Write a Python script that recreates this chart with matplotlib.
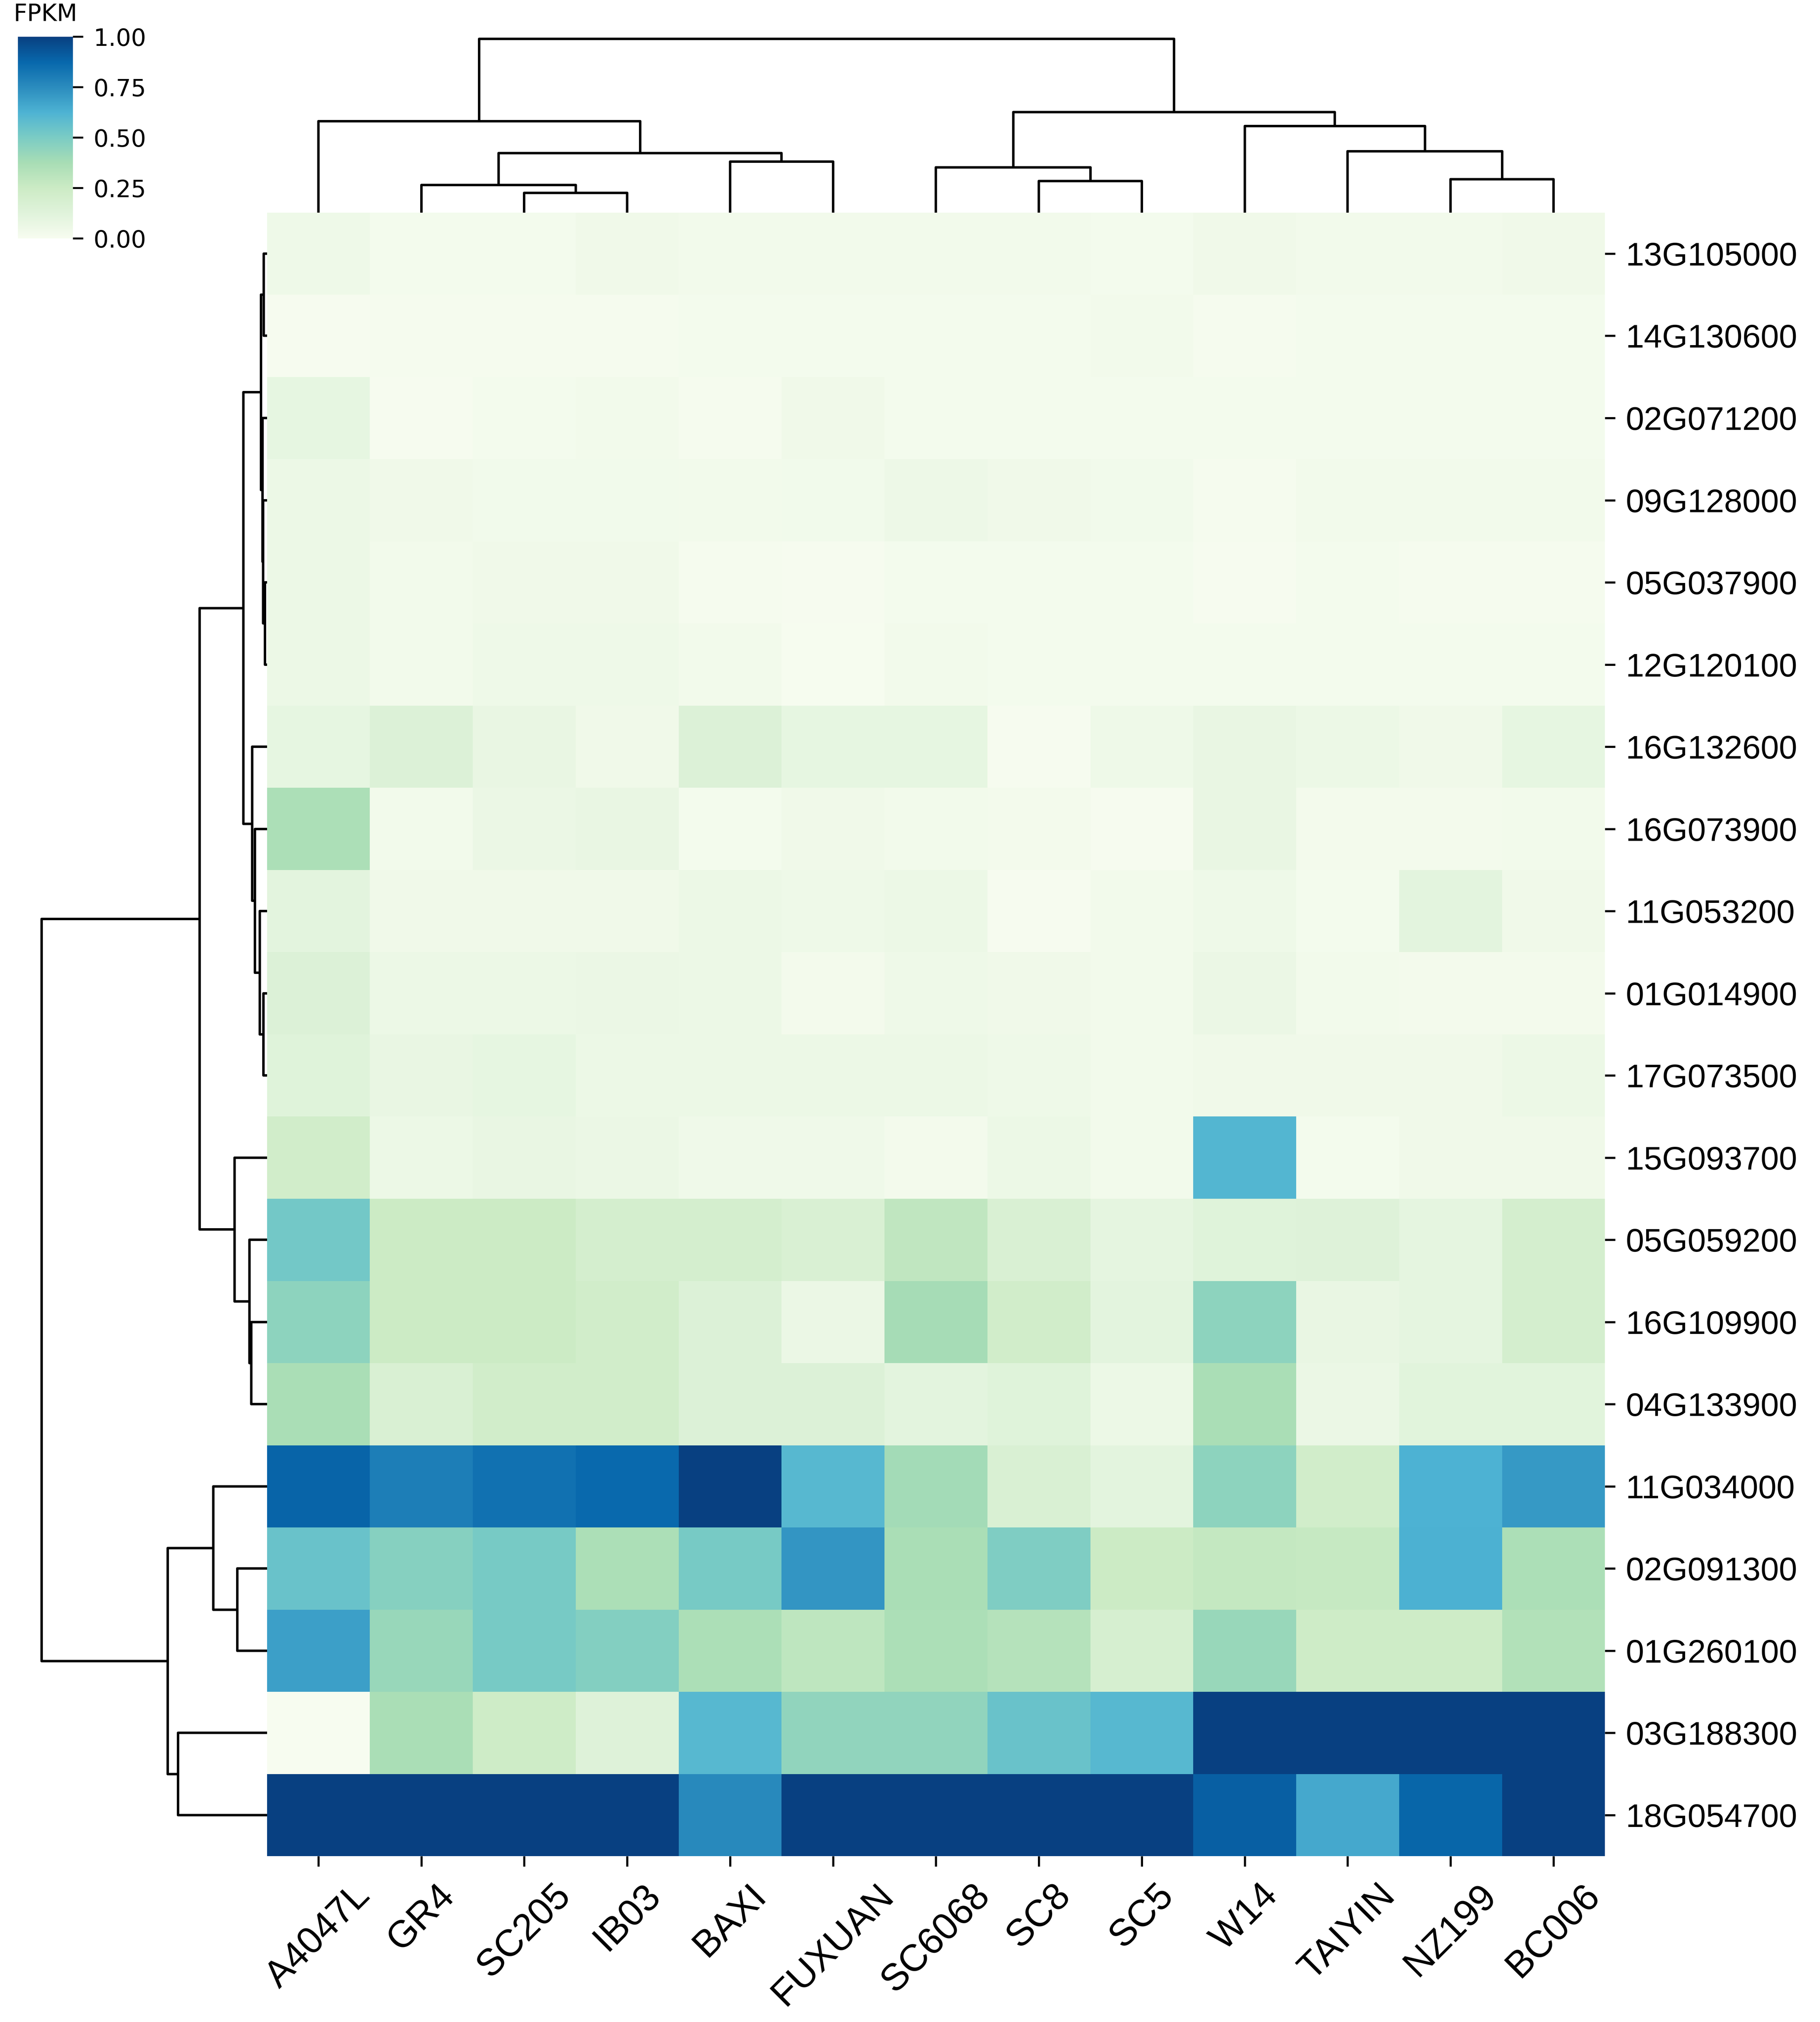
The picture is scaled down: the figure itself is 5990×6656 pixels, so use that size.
import numpy as np
import matplotlib.pyplot as plt

genes = ['13G105000', '14G130600', '02G071200', '09G128000', '05G037900',
         '12G120100', '16G132600', '16G073900', '11G053200', '01G014900',
         '17G073500', '15G093700', '05G059200', '16G109900', '04G133900',
         '11G034000', '02G091300', '01G260100', '03G188300', '18G054700']
samples = ['A4047L', 'GR4', 'SC205', 'IB03', 'BAXI', 'FUXUAN', 'SC6068',
           'SC8', 'SC5', 'W14', 'TAIYIN', 'NZ199', 'BC006']

# scaled FPKM, rows in clustered order
fpkm = np.array([
    [0.05, 0.02, 0.02, 0.04, 0.03, 0.03, 0.03, 0.03, 0.02, 0.04, 0.03, 0.03, 0.04],
    [0.01, 0.015, 0.015, 0.015, 0.02, 0.02, 0.02, 0.02, 0.03, 0.015, 0.02, 0.02, 0.02],
    [0.09, 0.01, 0.02, 0.03, 0.015, 0.04, 0.02, 0.02, 0.02, 0.02, 0.02, 0.02, 0.02],
    [0.06, 0.04, 0.035, 0.035, 0.03, 0.035, 0.055, 0.04, 0.035, 0.015, 0.03, 0.03, 0.03],
    [0.06, 0.03, 0.04, 0.04, 0.015, 0.01, 0.02, 0.02, 0.02, 0.01, 0.02, 0.015, 0.015],
    [0.06, 0.03, 0.05, 0.05, 0.03, 0.005, 0.03, 0.02, 0.02, 0.02, 0.02, 0.02, 0.02],
    [0.09, 0.15, 0.08, 0.04, 0.15, 0.09, 0.09, 0.01, 0.05, 0.08, 0.06, 0.04, 0.09],
    [0.36, 0.03, 0.07, 0.08, 0.02, 0.04, 0.03, 0.025, 0.01, 0.08, 0.025, 0.025, 0.03],
    [0.11, 0.04, 0.04, 0.04, 0.06, 0.05, 0.06, 0.01, 0.03, 0.05, 0.02, 0.11, 0.04],
    [0.15, 0.06, 0.06, 0.07, 0.06, 0.025, 0.05, 0.04, 0.03, 0.07, 0.03, 0.025, 0.025],
    [0.13, 0.08, 0.09, 0.06, 0.06, 0.06, 0.06, 0.05, 0.03, 0.04, 0.04, 0.04, 0.06],
    [0.22, 0.06, 0.08, 0.07, 0.045, 0.045, 0.025, 0.06, 0.03, 0.61, 0.02, 0.04, 0.04],
    [0.52, 0.25, 0.25, 0.2, 0.2, 0.17, 0.29, 0.17, 0.1, 0.13, 0.14, 0.1, 0.2],
    [0.45, 0.25, 0.25, 0.22, 0.15, 0.07, 0.38, 0.22, 0.11, 0.45, 0.08, 0.1, 0.2],
    [0.37, 0.17, 0.22, 0.22, 0.15, 0.15, 0.11, 0.13, 0.06, 0.37, 0.07, 0.12, 0.12],
    [0.885, 0.8, 0.84, 0.87, 1.0, 0.6, 0.39, 0.17, 0.11, 0.45, 0.22, 0.625, 0.71],
    [0.55, 0.47, 0.51, 0.36, 0.51, 0.72, 0.37, 0.49, 0.25, 0.28, 0.27, 0.63, 0.36],
    [0.69, 0.42, 0.51, 0.48, 0.36, 0.3, 0.36, 0.33, 0.19, 0.42, 0.24, 0.24, 0.34],
    [0.0, 0.37, 0.24, 0.14, 0.6, 0.44, 0.44, 0.55, 0.6, 1.0, 1.0, 1.0, 1.0],
    [1.0, 1.0, 1.0, 1.0, 0.76, 1.0, 1.0, 1.0, 1.0, 0.9, 0.66, 0.88, 1.0],
])

# linkage: (child a, child b, height)
# ids < n are leaves in plotted order, n + k is the k-th merge
row_links = [(4, 5, 8), (0, 1, 13), (3, 20, 15), (2, 22, 18), (21, 23, 24),
             (9, 10, 14), (8, 25, 28), (7, 26, 48), (6, 27, 58), (24, 28, 93),
             (13, 14, 62), (12, 30, 69), (11, 31, 128), (29, 32, 266),
             (16, 17, 117), (15, 34, 212), (18, 19, 352), (35, 36, 393),
             (33, 37, 891)]
col_links = [(2, 3, 78), (1, 13, 109), (4, 5, 201), (14, 15, 235), (0, 16, 361),
             (7, 8, 125), (6, 18, 179), (11, 12, 132), (10, 20, 243),
             (9, 21, 342), (19, 22, 398), (17, 23, 687)]


def dendro_segments(links, n):
    pos = {i: i + 0.5 for i in range(n)}
    hgt = {i: 0.0 for i in range(n)}
    segs = []
    for k, (a, b, h) in enumerate(links):
        segs.append(([pos[a], pos[a], pos[b], pos[b]], [hgt[a], h, h, hgt[b]]))
        pos[n + k] = (pos[a] + pos[b]) / 2
        hgt[n + k] = h
    return segs


# layout measured on a 7200 x 8000 grid
W, H = 7200, 8000
fig = plt.figure(figsize=(14.4, 16))


def box(x0, y0, x1, y1):
    return [x0 / W, 1 - y1 / H, (x1 - x0) / W, (y1 - y0) / H]


nrow, ncol = fpkm.shape
hl, hr, ht, hb = 1056, 6349, 841, 7344

ax = fig.add_axes(box(hl, ht, hr, hb))
mesh = ax.pcolormesh(np.arange(ncol + 1), np.arange(nrow + 1), fpkm,
                     cmap='GnBu', vmin=0, vmax=1, linewidth=0)
ax.set_xlim(0, ncol)
ax.set_ylim(nrow, 0)
for s in ax.spines.values():
    s.set_visible(False)
ax.yaxis.tick_right()
ax.set_yticks(np.arange(nrow) + 0.5)
ax.set_yticklabels(genes, family='Liberation Sans', fontsize=18.7)
ax.set_xticks(np.arange(ncol) + 0.5)
ax.set_xticklabels(samples, rotation=45, ha='center',
                   family='Liberation Sans', fontsize=21.5)
ax.tick_params(axis='both', length=5.8, width=1.2, pad=6)
ax.tick_params(axis='x', pad=6.5)

# column dendrogram
cmax = max(l[2] for l in col_links) * 1.05
axc = fig.add_axes(box(hl, ht - cmax, hr, ht))
for xs, hs in dendro_segments(col_links, ncol):
    axc.plot(xs, hs, color='black', lw=1.4, solid_capstyle='butt')
axc.set_xlim(0, ncol)
axc.set_ylim(0, cmax)
axc.axis('off')

# row dendrogram
rmax = max(l[2] for l in row_links) * 1.05
axr = fig.add_axes(box(hl - rmax, ht, hl, hb))
for ys, hs in dendro_segments(row_links, nrow):
    axr.plot(hs, ys, color='black', lw=1.4, solid_capstyle='butt')
axr.set_ylim(nrow, 0)
axr.set_xlim(rmax, 0)
axr.axis('off')

# colorbar
cax = fig.add_axes(box(71, 145, 288, 944))
cb = fig.colorbar(mesh, cax=cax)
cb.set_ticks([0, 0.25, 0.5, 0.75, 1.0])
cb.ax.set_yticklabels(['0.00', '0.25', '0.50', '0.75', '1.00'])
cb.outline.set_visible(False)
cax.tick_params(labelsize=13.5, length=5.8, width=1.1, pad=6)
cax.set_title('FPKM', fontsize=13.5, pad=9)

# 416 dpi keeps the file under the 40 MP reader limit (5990 x 6656)
fig.savefig('out.png', dpi=416)
